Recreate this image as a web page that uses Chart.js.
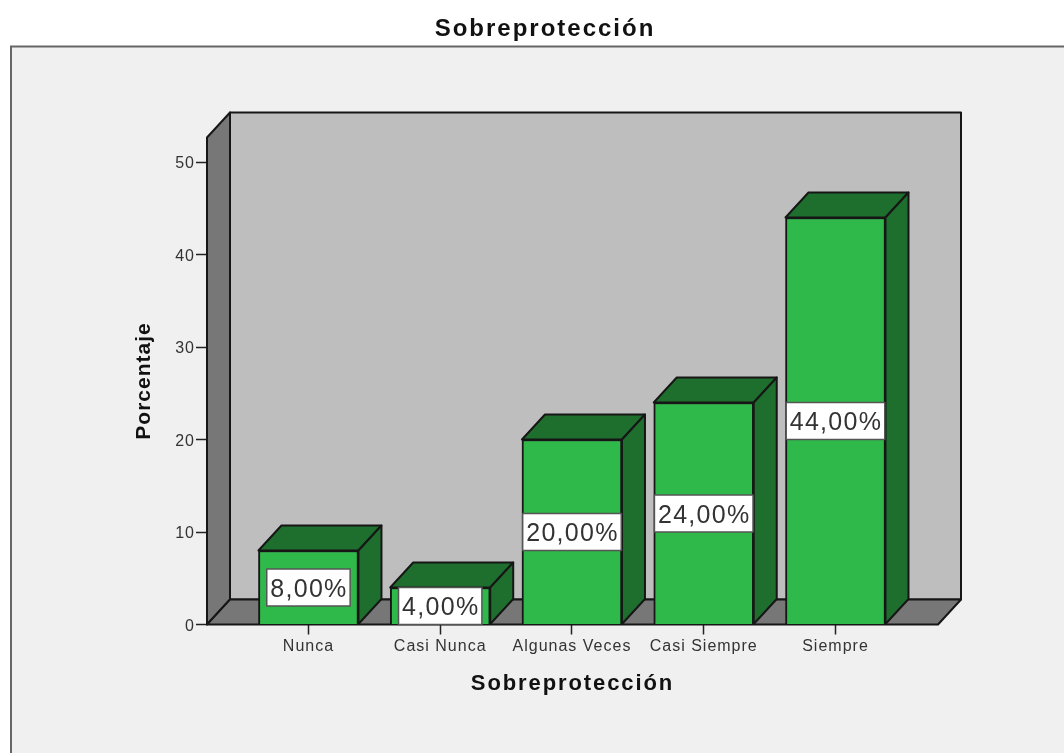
<!DOCTYPE html>
<html>
<head>
<meta charset="utf-8">
<title>Sobreprotección</title>
<style>html,body{margin:0;padding:0;background:#fff}canvas{display:block}</style>
<script src="https://cdn.jsdelivr.net/npm/chart.js@4"></script>
</head>
<body>
<canvas id="c" width="1064" height="753"></canvas>
<script>
const categories = ["Nunca", "Casi Nunca", "Algunas Veces", "Casi Siempre", "Siempre"];
const percentages = [8, 4, 20, 24, 44];
const chartTitle = "Sobreprotección";
const xTitle = "Sobreprotección";
const yTitle = "Porcentaje";

const DX = 23, DY = -25;
const EDGE = "#161616";
const FACE = "#2fb94b", SHADE = "#1e6f2e";
const FONT = "'Liberation Sans', Arial, sans-serif";

function poly(ctx, pts, fill) {
  ctx.beginPath();
  pts.forEach((p, i) => i ? ctx.lineTo(p[0], p[1]) : ctx.moveTo(p[0], p[1]));
  ctx.closePath();
  ctx.fillStyle = fill;
  ctx.fill();
  ctx.lineWidth = 2;
  ctx.lineJoin = "round";
  ctx.strokeStyle = EDGE;
  ctx.stroke();
}
function spaced(obj, method, ls) {
  const orig = obj[method];
  obj[method] = function () {
    const ctx = this.ctx;
    const prev = ctx.letterSpacing;
    ctx.letterSpacing = ls;
    const r = orig.apply(this, arguments);
    ctx.letterSpacing = prev;
    return r;
  };
}

const scene3d = {
  id: "scene3d",
  afterLayout(chart) {
    chart.titleBlock.left = 26;
    chart.titleBlock.right = chart.width;
    if (chart.$spaced) return;
    chart.$spaced = true;
    spaced(chart.titleBlock, "draw", "2px");
    spaced(chart.scales.x, "drawTitle", "1.9px");
    spaced(chart.scales.y, "drawTitle", "1px");
    spaced(chart.scales.x, "drawLabels", "1px");
    spaced(chart.scales.y, "drawLabels", "1px");
  },
  beforeDraw(chart) {
    const ctx = chart.ctx;
    ctx.save();
    ctx.fillStyle = "#fff";
    ctx.fillRect(0, 0, chart.width, chart.height);
    ctx.fillStyle = "#f0f0f0";
    ctx.fillRect(11, 47, chart.width, chart.height);
    ctx.strokeStyle = "#666";
    ctx.lineWidth = 2;
    ctx.beginPath();
    ctx.moveTo(11, chart.height);
    ctx.lineTo(11, 46.5);
    ctx.lineTo(chart.width, 46.5);
    ctx.stroke();
    ctx.restore();
  },
  beforeDatasetsDraw(chart) {
    const ctx = chart.ctx, a = chart.chartArea;
    const l = a.left, r = a.right, t = a.top, b = a.bottom;
    ctx.save();
    poly(ctx, [[l + DX, t + DY], [r + DX, t + DY], [r + DX, b + DY], [l + DX, b + DY]], "#bebebe");
    poly(ctx, [[l, t], [l + DX, t + DY], [l + DX, b + DY], [l, b]], "#777777");
    poly(ctx, [[l, b], [l + DX, b + DY], [r + DX, b + DY], [r, b]], "#777777");
    ctx.restore();
  },
  afterDatasetsDraw(chart) {
    const ctx = chart.ctx;
    const bars = chart.getDatasetMeta(0).data;
    ctx.save();
    bars.forEach(bar => {
      const hw = bar.width / 2;
      const x0 = bar.x - hw, x1 = bar.x + hw, yt = bar.y, yb = bar.base;
      poly(ctx, [[x0, yt], [x0 + DX, yt + DY], [x1 + DX, yt + DY], [x1, yt]], SHADE);
      poly(ctx, [[x1, yt], [x1 + DX, yt + DY], [x1 + DX, yb + DY], [x1, yb]], SHADE);
    });
    ctx.font = "25px " + FONT;
    ctx.letterSpacing = "1.3px";
    ctx.textAlign = "center";
    ctx.textBaseline = "middle";
    bars.forEach((bar, i) => {
      const v = percentages[i];
      const txt = v.toFixed(2).replace(".", ",") + "%";
      const w = ctx.measureText(txt).width + 6;
      const cy = chart.scales.y.getPixelForValue(v / 2);
      ctx.fillStyle = "#fff";
      ctx.fillRect(bar.x - w / 2, cy - 18.5, w, 37);
      ctx.strokeStyle = "#555";
      ctx.lineWidth = 1.5;
      ctx.strokeRect(bar.x - w / 2, cy - 18.5, w, 37);
      ctx.fillStyle = "#333";
      ctx.fillText(txt, bar.x + 0.5, cy + 2.5);
    });
    ctx.restore();
  }
};

new Chart(document.getElementById("c"), {
  type: "bar",
  data: {
    datasets: [{
      data: percentages.map((v, i) => ({ x: i, y: v })),
      backgroundColor: FACE,
      borderColor: EDGE,
      borderWidth: 2,
      barThickness: 100
    }]
  },
  plugins: [scene3d],
  options: {
    responsive: false,
    animation: false,
    devicePixelRatio: 1,
    layout: { padding: { left: 0, right: 126, top: 0, bottom: 0 } },
    plugins: {
      legend: { display: false },
      tooltip: { enabled: false },
      title: {
        display: true,
        text: chartTitle,
        color: "#111",
        font: { family: FONT, size: 24, weight: "bold", lineHeight: 1.2 },
        padding: { top: 15, bottom: 93.7 }
      }
    },
    scales: {
      x: {
        type: "linear",
        offset: false,
        min: -0.770,
        max: 4.778,
        afterFit: s => { s.height = 128.5; s.paddingLeft = 0; s.paddingRight = 0; },
        afterBuildTicks: s => { s.ticks = categories.map((_, i) => ({ value: i })); },
        border: { display: false },
        grid: { offset: false, drawOnChartArea: false, drawTicks: true, tickLength: 10, tickColor: "#222", tickWidth: 1.5 },
        ticks: {
          autoSkip: false, maxRotation: 0, minRotation: 0, padding: 2,
          color: "#333",
          font: { family: FONT, size: 16 },
          callback: v => categories[v]
        },
        title: {
          display: true, text: xTitle, color: "#111",
          font: { family: FONT, size: 22, weight: "bold", lineHeight: 1.2 },
          padding: { top: 0, bottom: 56 }
        }
      },
      y: {
        min: 0,
        max: 52.65,
        afterFit: s => { s.width = 207; },
        border: { display: false },
        grid: { drawOnChartArea: false, drawTicks: true, tickLength: 11, tickColor: "#222", tickWidth: 1.5 },
        ticks: {
          stepSize: 10, includeBounds: false, padding: 1, labelOffset: 2,
          color: "#333",
          font: { family: FONT, size: 16 }
        },
        title: {
          display: true, text: yTitle, color: "#111",
          font: { family: FONT, size: 21, weight: "bold", lineHeight: 1.2 },
          padding: { top: 132, bottom: 0 }
        }
      }
    }
  }
});
</script>
</body>
</html>
